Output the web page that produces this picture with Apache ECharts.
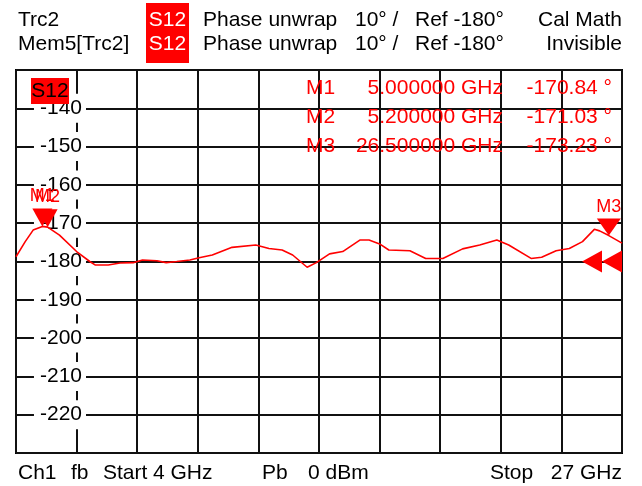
<!DOCTYPE html>
<html>
<head>
<meta charset="utf-8">
<script src="https://cdn.jsdelivr.net/npm/echarts@6/dist/echarts.min.js"></script>
<style>
html,body{margin:0;padding:0;background:#fff;}
#chart{width:642px;height:486px;}
</style>
</head>
<body>
<div id="chart"></div>
<script>
// ---- data ----
const freqGHz = [4.0, 4.35, 4.65, 5.0, 5.2, 5.65, 6.3, 6.8, 7.0, 7.5, 7.95, 8.45, 8.8, 9.35, 9.7, 10.1, 10.6, 10.95, 11.45, 12.2, 13.1, 13.6, 14.1, 14.5, 15.05, 15.4, 15.9, 16.4, 17.05, 17.4, 17.8, 18.15, 18.95, 19.55, 20.2, 20.95, 21.6, 22.25, 22.7, 23.55, 23.95, 24.5, 25.0, 25.5, 25.95, 26.15, 26.5, 27.0];
const phaseDeg = [-178.75, -174.8, -171.8, -170.84, -171.03, -173.1, -177.4, -180.0, -180.9, -180.9, -180.4, -180.3, -179.6, -179.8, -180.3, -180.0, -179.6, -179.0, -178.3, -176.3, -175.7, -176.6, -177.0, -178.3, -181.5, -180.3, -178.0, -177.4, -174.4, -174.4, -175.4, -177.0, -177.2, -179.2, -179.2, -176.7, -175.7, -174.4, -175.7, -179.2, -178.9, -177.2, -176.6, -174.8, -171.6, -172.0, -173.23, -175.2];
const markerNames = ['M1', 'M2', 'M3'];
const markerFreq = [5.0, 5.2, 26.5];
const markerPhase = [-170.84, -171.03, -173.23];
const yTicks = [-220, -210, -200, -190, -180, -170, -160, -150, -140];
const yMin = -230, yMax = -130, yStep = 10;
const fStart = 4, fStop = 27;
const refLevel = -180;

const FONT = "'Liberation Sans', Arial, sans-serif";
const RED = '#ff0000';

const chart = echarts.init(document.getElementById('chart'), null, {renderer: 'canvas'});

const lineData = freqGHz.map((f, i) => [f, phaseDeg[i]]);

function txt(x, y, s, opts) {
  opts = opts || {};
  return {
    type: 'text', x: x, y: y, z: opts.z || 20,
    style: {
      text: s, font: (opts.size || 21) + 'px ' + FONT,
      fill: opts.fill || '#000',
      textAlign: opts.align || 'left', textVerticalAlign: 'middle'
    }
  };
}

const graphics = [
  txt(18, 20, 'Trc2'),
  txt(18, 44, 'Mem5[Trc2]'),
  {type: 'rect', shape: {x: 146, y: 3, width: 43, height: 60}, style: {fill: RED}, z: 15},
  txt(167.5, 20, 'S12', {fill: '#fff', align: 'center'}),
  txt(167.5, 44, 'S12', {fill: '#fff', align: 'center'}),
  txt(203, 20, 'Phase unwrap'),
  txt(203, 44, 'Phase unwrap'),
  txt(355, 20, '10° /'),
  txt(355, 44, '10° /'),
  txt(415, 20, 'Ref -180°'),
  txt(415, 44, 'Ref -180°'),
  txt(622, 20, 'Cal Math', {align: 'right'}),
  txt(622, 44, 'Invisible', {align: 'right'}),
  // bottom line
  txt(18, 473, 'Ch1'),
  txt(71, 473, 'fb'),
  txt(103, 473, 'Start'),
  txt(153, 473, '4 GHz'),
  txt(262, 473, 'Pb'),
  txt(308, 473, '0 dBm'),
  txt(490, 473, 'Stop'),
  txt(622, 473, '27 GHz', {align: 'right'}),
  // trace tag in plot
  {type: 'rect', shape: {x: 31, y: 78, width: 38, height: 26}, style: {fill: RED}, z: 30},
  txt(50, 91, 'S12', {align: 'center', z: 31})
];
// marker table
const rowY = [88, 117, 146];
markerNames.forEach((n, i) => {
  graphics.push(txt(306, rowY[i], n, {fill: RED}));
  graphics.push(txt(503, rowY[i], markerFreq[i].toFixed(6) + ' GHz', {fill: RED, align: 'right'}));
  graphics.push(txt(612, rowY[i], markerPhase[i].toFixed(2) + ' °', {fill: RED, align: 'right'}));
});

const option = {
  backgroundColor: '#fff',
  animation: false,
  grid: {left: 16, right: 20, top: 70, bottom: 33, show: true, borderColor: '#000', borderWidth: 2, backgroundColor: '#fff'},
  xAxis: [
    {type: 'value', min: fStart, max: fStop, show: true, axisLine: {show: false}, axisTick: {show: false}, axisLabel: {show: false}, splitLine: {show: false}},
    {type: 'value', min: 0, max: 10, interval: 1, axisLine: {show: false}, axisTick: {show: false}, axisLabel: {show: false},
     splitLine: {show: true, lineStyle: {color: '#111', width: 2}}}
  ],
  yAxis: [
    {type: 'value', min: yMin, max: yMax, interval: yStep, axisLine: {show: false}, axisTick: {show: false}, axisLabel: {show: false},
     splitLine: {show: true, lineStyle: {color: '#111', width: 2}}},
    {type: 'value', min: yMin, max: yMax, interval: yStep, position: 'left', offset: -70, z: 2,
     axisLine: {show: false}, axisTick: {show: false}, splitLine: {show: false},
     axisLabel: {show: true, margin: 0, fontSize: 21, fontFamily: FONT, color: '#000', backgroundColor: '#fff',
       padding: [4, 4, 4, 6], showMinLabel: false, showMaxLabel: false,
       formatter: v => yTicks.indexOf(v) >= 0 ? String(v) : ''}}
  ],
  series: [
    {
      type: 'line', xAxisIndex: 0, yAxisIndex: 0, data: lineData, showSymbol: false, symbol: 'none',
      lineStyle: {color: RED, width: 1.6}, z: 5,
      markPoint: {
        silent: true,
        data: markerNames.map((n, i) => ({
          name: n, coord: [markerFreq[i], markerPhase[i]],
          symbol: 'triangle', symbolRotate: 180, symbolSize: i === 2 ? [24, 17] : [20, 18],
          symbolOffset: [0, i === 2 ? -8.5 : -9],
          itemStyle: {color: RED},
          label: {show: true, position: 'top', distance: 3, formatter: n, color: RED, fontSize: 18, fontFamily: FONT}
        })).concat([
          {coord: [fStop, refLevel], symbol: 'triangle', symbolRotate: 90, symbolSize: [22, 20], symbolOffset: [-10, 0], itemStyle: {color: RED}, label: {show: false}},
          {coord: [fStop, refLevel], symbol: 'triangle', symbolRotate: 90, symbolSize: [22, 20], symbolOffset: [-30, 0], itemStyle: {color: RED}, label: {show: false}}
        ])
      }
    }
  ],
  graphic: graphics
};
chart.setOption(option);
</script>
</body>
</html>
